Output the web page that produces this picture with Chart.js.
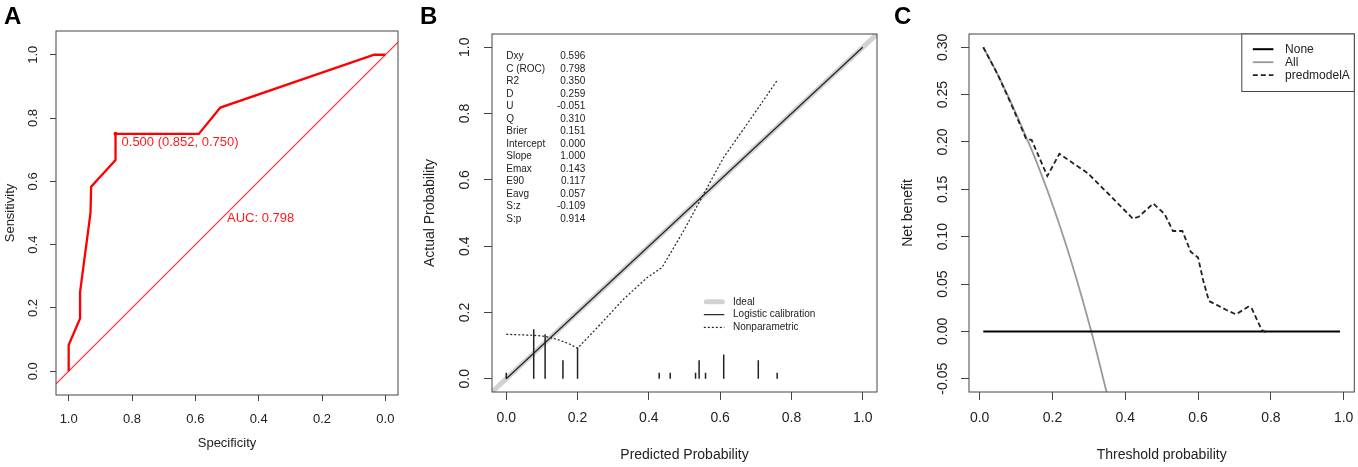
<!DOCTYPE html>
<html>
<head>
<meta charset="utf-8">
<script src="https://cdn.jsdelivr.net/npm/chart.js@4.4.1/dist/chart.umd.min.js"></script>
<style>
  html, body { margin: 0; padding: 0; background: #fff; }
  body { width: 1358px; height: 467px; position: relative; overflow: hidden; }
  canvas { position: absolute; top: 0; }
  .tag { position: absolute; top: 4px; font: bold 24px/24px "Liberation Sans", Arial, sans-serif; color: #000; }
</style>
</head>
<body>
<canvas id="roc" width="450" height="467" style="left:0"></canvas>
<canvas id="calib" width="480" height="467" style="left:420px"></canvas>
<canvas id="dca" width="468" height="467" style="left:890px"></canvas>
<div class="tag" style="left:4px">A</div>
<div class="tag" style="left:420px">B</div>
<div class="tag" style="left:894px">C</div>
<script>
// A: ROC curve (specificity runs 1 -> 0)
const rocSpec = [1.0, 1.0, 0.964, 0.964, 0.931, 0.929, 0.852, 0.852, 0.589, 0.521, 0.035, 0.0]
const rocSens = [0.0, 0.083, 0.167, 0.25, 0.5, 0.583, 0.667, 0.75, 0.75, 0.833, 1.0, 1.0]
const chanceSpec = [1.04, -0.04]
const chanceSens = [-0.04, 1.04]
const bestSpec = 0.852
const bestSens = 0.75
const bestLabel = '0.500 (0.852, 0.750)'
const aucLabel = 'AUC: 0.798'
const rocTicks = [0, 0.2, 0.4, 0.6, 0.8, 1.0]

// B: calibration plot
const idealP = [-0.04, 1.04]
const logisticP = [0, 1]
const nonparP = [0, 0.077, 0.109, 0.142, 0.175, 0.200, 0.255, 0.329, 0.395, 0.437, 0.498, 0.554, 0.610, 0.676, 0.760]
const nonparA = [0.134, 0.131, 0.128, 0.119, 0.106, 0.092, 0.154, 0.240, 0.305, 0.336, 0.447, 0.558, 0.668, 0.769, 0.900]
const spikeP = [0, 0.077, 0.109, 0.159, 0.200, 0.429, 0.460, 0.531, 0.541, 0.559, 0.610, 0.707, 0.760]
const spikeH = [0.018, 0.149, 0.134, 0.056, 0.094, 0.018, 0.018, 0.018, 0.056, 0.018, 0.073, 0.056, 0.018]
const statNames = ['Dxy', 'C (ROC)', 'R2', 'D', 'U', 'Q', 'Brier', 'Intercept', 'Slope', 'Emax', 'E90', 'Eavg', 'S:z', 'S:p']
const statValues = ['0.596', '0.798', '0.350', '0.259', '-0.051', '0.310', '0.151', '0.000', '1.000', '0.143', '0.117', '0.057', '-0.109', '0.914']
const calibLegend = ['Ideal', 'Logistic calibration', 'Nonparametric']
const calibTicks = [0, 0.2, 0.4, 0.6, 0.8, 1.0]

// C: decision curve
const noneT = [0.01, 0.99]
const noneNB = [0, 0]
const allT = [0.01, 0.05, 0.10, 0.127, 0.15, 0.20, 0.25, 0.306, 0.35]
const allNB = [0.300, 0.271, 0.230, 0.206, 0.185, 0.134, 0.076, 0.001, -0.066]
const modelT = [0.01, 0.05, 0.09, 0.127, 0.143, 0.186, 0.219, 0.297, 0.357, 0.421, 0.437, 0.477, 0.508, 0.531, 0.557, 0.580, 0.600, 0.614, 0.630, 0.651, 0.678, 0.704, 0.738, 0.747, 0.761, 0.775, 0.789]
const modelNB = [0.300, 0.271, 0.237, 0.204, 0.202, 0.164, 0.1875, 0.167, 0.144, 0.119, 0.121, 0.135, 0.124, 0.106, 0.106, 0.084, 0.078, 0.054, 0.032, 0.028, 0.0226, 0.018, 0.026, 0.0247, 0.013, 0.0014, -0.0012]
const dcaLegend = ['None', 'All', 'predmodelA']
const dcaXTicks = [0, 0.2, 0.4, 0.6, 0.8, 1.0]
const dcaYTicks = [-0.05, 0, 0.05, 0.10, 0.15, 0.20, 0.25, 0.30]

const FONT = '"Liberation Sans", Arial, Helvetica, sans-serif'
Chart.defaults.font.family = FONT
Chart.defaults.color = '#222'
Chart.defaults.animation = false

const pts = (xs, ys) => xs.map((x, i) => ({ x, y: ys[i] }))

// R-style axis: ticks outside, no grid, labels parallel to the axis
function axis({ min, max, reverse = false, ticks, digits, size, tickLen, pad, title, titlePad, rotate = false, thick }) {
  return {
    type: 'linear', min, max, reverse, offset: false,
    border: { display: false },
    grid: { drawOnChartArea: false, drawTicks: true, tickLength: tickLen, color: '#444', lineWidth: 1, offset: false },
    ticks: {
      autoSkip: false, padding: pad, color: '#222', font: { size },
      minRotation: rotate ? 90 : 0, maxRotation: rotate ? 90 : 0,
      crossAlign: rotate ? 'center' : 'near',
      callback: v => v.toFixed(digits),
    },
    title: { display: true, text: title, color: '#222', font: { size }, padding: titlePad },
    afterBuildTicks: s => { s.ticks = ticks.map(value => ({ value })) },
    afterFit: s => {
      if (s.isHorizontal()) s.height = thick
      else s.width = thick
      s.paddingLeft = s.paddingRight = s.paddingTop = s.paddingBottom = 0
    },
  }
}

const frame = {
  id: 'frame',
  afterDatasetsDraw(chart) {
    const { ctx, chartArea: a } = chart
    ctx.save()
    ctx.strokeStyle = '#444'
    ctx.lineWidth = 1
    ctx.strokeRect(a.left, a.top, a.right - a.left, a.bottom - a.top)
    ctx.restore()
  },
}

const common = {
  responsive: false,
  plugins: { legend: { display: false }, tooltip: { enabled: false } },
  elements: { point: { radius: 0 }, line: { tension: 0, fill: false } },
}

// ---- A ----
const rocNotes = {
  id: 'rocNotes',
  afterDatasetsDraw(chart) {
    const { ctx, scales: { x, y } } = chart
    ctx.save()
    ctx.font = '13px ' + FONT
    ctx.fillStyle = '#ff1a1a'
    ctx.textBaseline = 'middle'
    ctx.textAlign = 'left'
    ctx.fillText(bestLabel, x.getPixelForValue(bestSpec) + 6, y.getPixelForValue(bestSens) + 9)
    ctx.fillText(aucLabel, x.getPixelForValue(0.5), y.getPixelForValue(0.5) + 5.5)
    ctx.restore()
  },
}

new Chart(document.getElementById('roc'), {
  type: 'line',
  data: {
    datasets: [
      { label: 'cut-off', data: [{ x: bestSpec, y: bestSens }], showLine: false, pointRadius: 2, pointBackgroundColor: '#ff0000', pointBorderColor: '#ff0000', pointBorderWidth: 0 },
      { label: 'ROC', data: pts(rocSpec, rocSens), borderColor: '#ff0000', backgroundColor: '#ff0000', borderWidth: 2.3 },
      { label: 'chance', data: pts(chanceSpec, chanceSens), borderColor: '#ff3030', backgroundColor: '#ff3030', borderWidth: 1.2, clip: 0 },
    ],
  },
  options: {
    ...common,
    layout: { padding: { top: 31, right: 52, left: 0, bottom: 0 } },
    scales: {
      x: axis({ min: -0.04, max: 1.04, reverse: true, ticks: rocTicks, digits: 1, size: 13, tickLen: 6, pad: 10.2,
        title: 'Specificity', titlePad: { top: 0, bottom: 15.9 }, thick: 72 }),
      y: axis({ min: -0.075, max: 1.075, ticks: rocTicks, digits: 1, size: 13, tickLen: 6, pad: 7.7, rotate: true,
        title: 'Sensitivity', titlePad: { top: 2.2, bottom: 0 }, thick: 56 }),
    },
  },
  plugins: [frame, rocNotes],
})

// ---- B ----
const calibNotes = {
  id: 'calibNotes',
  afterDatasetsDraw(chart) {
    const { ctx, scales: { x, y } } = chart
    ctx.save()
    ctx.font = '10px ' + FONT
    ctx.fillStyle = '#222'
    ctx.textBaseline = 'middle'
    // statistics block anchored at (0, 0.99)
    const sx = x.getPixelForValue(0)
    const sy = y.getPixelForValue(0.99)
    statNames.forEach((name, i) => {
      const ty = sy + 6 + i * 12.5
      ctx.textAlign = 'left'
      ctx.fillText(name, sx, ty)
      ctx.textAlign = 'right'
      ctx.fillText(statValues[i], sx + 79, ty)
    })
    // legend anchored at (0.55, 0.27)
    const lx = x.getPixelForValue(0.55)
    const ly = y.getPixelForValue(0.27)
    calibLegend.forEach((label, i) => {
      const ds = chart.data.datasets.find(d => d.label === label)
      const round = ds.borderCapStyle === 'round'
      const ty = ly + 12.6 + i * 12.8
      ctx.beginPath()
      ctx.strokeStyle = ds.borderColor
      ctx.lineWidth = ds.borderWidth
      ctx.lineCap = ds.borderCapStyle || 'butt'
      ctx.setLineDash(ds.borderDash || [])
      ctx.moveTo(lx + (round ? 4 : 1.5), ty)
      ctx.lineTo(lx + (round ? 20 : 22), ty)
      ctx.stroke()
      ctx.setLineDash([])
      ctx.textAlign = 'left'
      ctx.fillText(label, lx + 30.7, ty)
    })
    ctx.restore()
  },
}

const spikes = spikeP.flatMap((p, i) => [{ x: p, y: 0 }, { x: p, y: spikeH[i] }, { x: p, y: null }])

new Chart(document.getElementById('calib'), {
  type: 'line',
  data: {
    datasets: [
      { label: 'spikes', data: spikes, borderColor: '#222', borderWidth: 1.5, spanGaps: false },
      { label: 'Nonparametric', data: pts(nonparP, nonparA), borderColor: '#222', borderWidth: 1.2, borderDash: [2, 2] },
      { label: 'Logistic calibration', data: pts(logisticP, logisticP), borderColor: '#222', borderWidth: 1.2 },
      { label: 'Ideal', data: pts(idealP, idealP), borderColor: '#d2d2d2', borderWidth: 5, borderCapStyle: 'round', clip: 0 },
    ],
  },
  options: {
    ...common,
    layout: { padding: { top: 34, right: 23, left: 0, bottom: 0 } },
    scales: {
      x: axis({ min: -0.04, max: 1.04, ticks: calibTicks, digits: 1, size: 14, tickLen: 8, pad: 9.9,
        title: 'Predicted Probability', titlePad: { top: 0, bottom: 3.6 }, thick: 75 }),
      y: axis({ min: -0.04, max: 1.04, ticks: calibTicks, digits: 1, size: 14, tickLen: 8, pad: 9.3, rotate: true,
        title: 'Actual Probability', titlePad: { top: 1.6, bottom: 0 }, thick: 72 }),
    },
  },
  plugins: [frame, calibNotes],
})

// ---- C ----
const dcaLegendBox = {
  id: 'dcaLegendBox',
  afterDatasetsDraw(chart) {
    const { ctx, chartArea: a } = chart
    const w = 112.5
    const h = 57.5
    const bx = a.right - w
    const by = a.top
    ctx.save()
    ctx.fillStyle = '#fff'
    ctx.fillRect(bx, by, w, h)
    ctx.strokeStyle = '#444'
    ctx.lineWidth = 1
    ctx.strokeRect(bx, by, w, h)
    ctx.font = '12px ' + FONT
    ctx.fillStyle = '#222'
    ctx.textBaseline = 'middle'
    ctx.textAlign = 'left'
    dcaLegend.forEach((label, i) => {
      const ds = chart.data.datasets.find(d => d.label === label)
      const ty = by + 15.2 + i * 13
      ctx.beginPath()
      ctx.strokeStyle = ds.borderColor
      ctx.lineWidth = ds.borderWidth
      ctx.setLineDash(ds.borderDash || [])
      ctx.moveTo(bx + 11, ty)
      ctx.lineTo(bx + 31.6, ty)
      ctx.stroke()
      ctx.setLineDash([])
      ctx.fillText(label, bx + 43.3, ty)
    })
    ctx.restore()
  },
}

new Chart(document.getElementById('dca'), {
  type: 'line',
  data: {
    datasets: [
      { label: 'predmodelA', data: pts(modelT, modelNB), borderColor: '#222', borderWidth: 1.8, borderDash: [5, 3] },
      { label: 'None', data: pts(noneT, noneNB), borderColor: '#000', borderWidth: 2 },
      { label: 'All', data: pts(allT, allNB), borderColor: '#9a9a9a', borderWidth: 1.8, cubicInterpolationMode: 'monotone', clip: 0 },
    ],
  },
  options: {
    ...common,
    layout: { padding: { top: 34, right: 3.7, left: 0, bottom: 0 } },
    scales: {
      x: axis({ min: -0.0292, max: 1.0292, ticks: dcaXTicks, digits: 1, size: 14, tickLen: 8, pad: 9.9,
        title: 'Threshold probability', titlePad: { top: 0, bottom: 3.6 }, thick: 75 }),
      y: axis({ min: -0.064, max: 0.314, ticks: dcaYTicks, digits: 2, size: 14, tickLen: 8, pad: 1.75, rotate: true,
        title: 'Net benefit', titlePad: { top: 9.9, bottom: 0 }, thick: 79 }),
    },
  },
  plugins: [frame, dcaLegendBox],
})
</script>
</body>
</html>
